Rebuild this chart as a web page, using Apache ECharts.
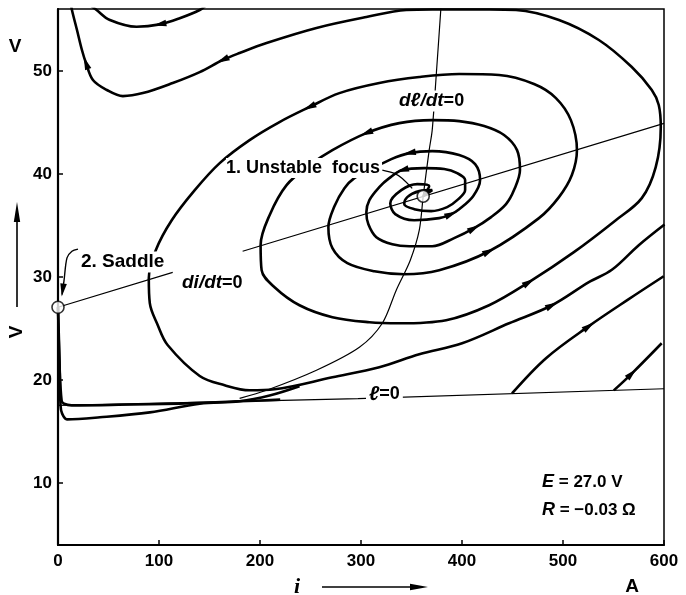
<!DOCTYPE html>
<html>
<head>
<meta charset="utf-8">
<script src="https://cdn.jsdelivr.net/npm/echarts@6/dist/echarts.min.js"></script>
<style>html,body{margin:0;padding:0;background:#fff}#c{width:686px;height:595px}</style>
</head>
<body>
<div id="c"></div>
<script>
// ---- tick labels ----
const xTicks = [0, 100, 200, 300, 400, 500, 600];
const yTicks = [10, 20, 30, 40, 50];

// ---- nullclines and boundary (i [A], V [V]) ----
const diNull = [[0, 27.07], [113.6, 30.45], null, [182.8, 32.5], [600, 44.9]];
const dlNull = [[379.4, 56.5], [374.5, 49.59], [370.5, 44.25], [367.5, 42.31], [361.6, 37.84],
  [357.7, 34.54], [348.8, 31.63], [334.9, 28.72], [321.1, 25.51], [298.4, 23.18],
  [255.9, 20.95], [206.5, 19.01], [179.8, 18.23]];
const lZero = [[0, 17.55], [180, 17.94], [297, 18.2], [600, 19.16]];

// ---- trajectories ----
const spiral1 = [[361.6, 37.84], [370.5, 38.43], [357.7, 38.33], [345.8, 37.75], [342.8, 37.07],
  [352.7, 36.58], [369.5, 36.39], [385.3, 36.78], [395.2, 37.46], [403.1, 38.43],
  [403.1, 39.40], [395.2, 40.08], [382.4, 40.47], [362.6, 40.56], [340.9, 40.37],
  [328.0, 39.59], [318.1, 38.72], [308.3, 37.46], [305.3, 36.29], [307.3, 35.12],
  [315.2, 33.86], [331.0, 33.18], [347.8, 32.99], [370.5, 32.99], [392.2, 33.77],
  [412.0, 34.74], [428.8, 35.81], [443.6, 37.07], [451.5, 38.43], [457.4, 40.37],
  [454.5, 42.31], [441.6, 43.77], [421.9, 44.64], [397.2, 45.12], [370.5, 45.22],
  [337.9, 44.93], [305.3, 43.96], [271.7, 42.31], [249.0, 40.85], [226.3, 38.91],
  [209.5, 36.00], [200.6, 33.09], [201.6, 30.66], [214.4, 29.01], [239.1, 27.26],
  [271.7, 26.10], [308.3, 25.61], [337.9, 25.51], [384.3, 25.81], [426.8, 27.26],
  [466.3, 29.50], [510.8, 32.41], [552.3, 35.51], [578.0, 37.65], [591.8, 40.66],
  [596.8, 44.54], [594.8, 46.68], [587.9, 48.14], [568.1, 50.37], [535.5, 52.99],
  [496.0, 54.93], [453.5, 55.90], [426.8, 55.95], [397.2, 55.95], [370.5, 55.95],
  [344.8, 55.90], [305.3, 55.22], [255.9, 54.16], [206.5, 52.70], [179.8, 51.73],
  [163.0, 51.05], [140.3, 49.88], [113.6, 48.82], [84.0, 47.84], [64.2, 47.55],
  [48.4, 48.14], [34.6, 49.11], [27.7, 50.76], [23.7, 52.02], [18.8, 53.96],
  [13.8, 55.90], [12.8, 56.5]];
const spiral2 = [[361.6, 37.84], [367.5, 38.82], [355.7, 39.01], [339.9, 38.43], [329.0, 37.16],
  [333.9, 36.10], [352.7, 35.51], [377.4, 35.71], [389.3, 36.10], [397.2, 36.58],
  [411.0, 37.84], [417.9, 39.40], [413.0, 40.95], [397.2, 41.83], [370.5, 42.21],
  [347.8, 42.02], [330.0, 41.44], [308.3, 40.37], [293.4, 39.59], [283.6, 38.62],
  [273.7, 36.87], [267.7, 34.83], [271.7, 32.80], [286.5, 31.34], [313.2, 30.56],
  [342.8, 30.27], [377.4, 30.66], [426.8, 32.50], [476.2, 35.71], [496.0, 37.75],
  [508.8, 39.89], [513.8, 42.31], [507.8, 45.22], [493.0, 47.36], [471.3, 48.72],
  [436.7, 49.59], [397.2, 49.69], [357.7, 49.40], [318.1, 48.82], [278.6, 47.84],
  [249.0, 46.49], [219.3, 45.03], [189.7, 43.28], [160.1, 41.05], [135.4, 38.43],
  [112.6, 35.51], [96.8, 32.60], [89.9, 29.88], [90.9, 27.46], [98.8, 25.32],
  [108.5, 23.40], [140.3, 20.40], [165.0, 19.50], [189.7, 19.01], [214.4, 19.11],
  [271.7, 20.27], [318.1, 21.24], [357.7, 22.50], [400.1, 23.57], [446.6, 25.51],
  [489.1, 27.26], [525.6, 29.50], [548.4, 30.70], [575.0, 33.09], [600.5, 35.10]];
const topArc = [[147.2, 56.4], [140.3, 55.9], [120.5, 55.1], [100.8, 54.51], [77.8, 54.28],
  [51.4, 54.93], [38.2, 55.9], [31.6, 56.4]];
const saddleLow = [[0, 27.07], [1.5, 21.9], [2.5, 17.55], [4.0, 16.77], [8.9, 16.19],
  [41.5, 16.39], [90.9, 16.87], [140.3, 17.7], [179.8, 17.94], [209.5, 18.5], [239.1, 19.4]];
const saddleUp = [[0, 27.07], [1.5, 21.5], [3.6, 18.0], [6.0, 17.7], [13.5, 17.55],
  [21.7, 17.55], [60, 17.6], [120, 17.72], [180, 17.94], [220, 18.1]];
const lowRight1 = [[449.5, 18.7], [483.2, 22.12], [525.6, 25.23], [565.1, 27.85], [599.7, 30.07]];
const lowRight2 = [[550.3, 19.0], [568.1, 20.63], [597.7, 23.57]];

// ---- singular points and annotation leaders ----
const focusPt = [361.6, 37.84];
const saddlePt = [0, 27.07];
const focusLeader = [[321.1, 40.37], [333.0, 40.05], [340.9, 39.56], [350.7, 38.59]];
const saddleLeader = [[19.8, 32.7], [13.8, 32.5], [8.9, 31.85], [5.9, 29.6], [4.0, 28.3]];

// arrow positions: curve + vertex index
const arrowSpec = [
  [topArc, 3], [spiral1, 14], [spiral1, 25], [spiral1, 36], [spiral1, 50], [spiral1, 70], [spiral1, 77],
  [spiral2, 8], [spiral2, 15], [spiral2, 27], [spiral2, 40], [spiral2, 60],
  [lowRight1, 2], [lowRight2, 1], [saddleLeader, 4]
];
const arrowData = arrowSpec.map(([c, k]) => {
  const a = c[Math.max(k - 1, 0)], b = c[Math.min(k + 1, c.length - 1)], p = c[k];
  return [p[0], p[1], a[0], a[1], b[0], b[1], k === c.length - 1 ? 1 : 0];
});

const FONT = '"Liberation Sans", "DejaVu Sans", sans-serif';
const chart = echarts.init(document.getElementById('c'), null, {renderer: 'canvas'});

function thick(data, w) {
  return {type: 'line', data: data, showSymbol: false, symbol: 'none', smooth: 0.35,
    lineStyle: {color: '#000', width: w || 2.6}, z: 3, silent: true};
}
function thin(data, smooth) {
  return {type: 'line', data: data, showSymbol: false, symbol: 'none', smooth: smooth ? 0.3 : false,
    lineStyle: {color: '#000', width: 1.2}, z: 2, silent: true};
}
const mid = {verticalAlign: 'middle', textVerticalAlign: 'middle'};
const ctr = {align: 'center', textAlign: 'center', verticalAlign: 'middle', textVerticalAlign: 'middle'};

const option = {
  animation: false,
  backgroundColor: '#fff',
  grid: {left: 58, right: 22, top: 9, bottom: 50, show: true, borderColor: '#000', borderWidth: 1.5},
  xAxis: {
    type: 'value', min: 0, max: 600, interval: 100,
    axisLine: {show: true, onZero: false, lineStyle: {color: '#000', width: 2}},
    axisTick: {show: true, inside: true, length: 5, lineStyle: {color: '#000', width: 1.5}},
    axisLabel: {color: '#000', fontSize: 17, fontWeight: 'bold', fontFamily: FONT, margin: 8, customValues: xTicks},
    splitLine: {show: false}
  },
  yAxis: {
    type: 'value', min: 4, max: 56,
    axisLine: {show: true, onZero: false, lineStyle: {color: '#000', width: 2.2}},
    axisTick: {show: true, inside: true, length: 5, lineStyle: {color: '#000', width: 1.5}, customValues: yTicks},
    axisLabel: {color: '#000', fontSize: 17, fontWeight: 'bold', fontFamily: FONT, margin: 6, customValues: yTicks},
    splitLine: {show: false}
  },
  series: [
    thin(diNull, false),
    thin(dlNull, true),
    thin(lZero, false),
    thick(spiral1), thick(spiral2), thick(topArc), thick(saddleLow), thick(saddleUp),
    thick(lowRight1), thick(lowRight2),
    thin(focusLeader, true),
    Object.assign(thin(saddleLeader, true), {lineStyle: {color: '#000', width: 1.4}}),
    {
      type: 'custom', data: arrowData, z: 6, silent: true, clip: false,
      encode: {x: 0, y: 1},
      renderItem: function (params, api) {
        const p = api.coord([api.value(0), api.value(1)]);
        const a = api.coord([api.value(2), api.value(3)]);
        const b = api.coord([api.value(4), api.value(5)]);
        const end = api.value(6) === 1;
        let dx = b[0] - a[0], dy = b[1] - a[1];
        const L = Math.hypot(dx, dy) || 1; dx /= L; dy /= L;
        const len = 13, w = 3.3;
        const t = end ? [p[0] + dx * 2, p[1] + dy * 2] : [p[0] + dx * len * 0.5, p[1] + dy * len * 0.5];
        const c = [t[0] - dx * len, t[1] - dy * len];
        return {type: 'polygon', shape: {points: [t, [c[0] - dy * w, c[1] + dx * w], [c[0] + dy * w, c[1] - dx * w]]},
          style: {fill: '#000'}};
      }
    },
    {
      type: 'scatter', data: [focusPt, saddlePt], symbol: 'circle', symbolSize: 12, clip: false, z: 8, silent: true,
      itemStyle: {color: '#fff', borderColor: '#000', borderWidth: 1.6}
    }
  ],
  graphic: [
    {type: 'text', x: 226, y: 168, z: 100, style: Object.assign({text: '1. Unstable  focus', font: 'bold 18px ' + FONT, fill: '#000',
      backgroundColor: '#fff', padding: [1, 2, 1, 0]}, mid)},
    {type: 'text', x: 79, y: 262, z: 100, style: Object.assign({text: '2. Saddle', font: 'bold 19px ' + FONT, fill: '#000',
      backgroundColor: '#fff', padding: [1, 2]}, mid)},
    {type: 'text', x: 180, y: 283, z: 100, style: Object.assign({text: '{b|di/dt}{n|=0}', fill: '#000',
      backgroundColor: '#fff', padding: [1, 2],
      rich: {b: {font: 'italic bold 19px ' + FONT, fill: '#000'}, n: {font: 'bold 18px ' + FONT, fill: '#000'}}}, mid)},
    {type: 'text', x: 397, y: 101, z: 100, style: Object.assign({text: '{b|dℓ/dt}{n|=0}', fill: '#000',
      backgroundColor: '#fff', padding: [1, 2],
      rich: {b: {font: 'italic bold 19px ' + FONT, fill: '#000'}, n: {font: 'bold 18px ' + FONT, fill: '#000'}}}, mid)},
    {type: 'text', x: 366, y: 394, z: 100, style: Object.assign({text: '{b|ℓ}{n|=0}', fill: '#000',
      backgroundColor: '#fff', padding: [1, 3],
      rich: {b: {font: 'italic bold 20px ' + FONT, fill: '#000'}, n: {font: 'bold 18px ' + FONT, fill: '#000'}}}, mid)},
    {type: 'text', x: 542, y: 482, z: 100, style: Object.assign({text: '{i|E} = 27.0 V', font: 'bold 17px ' + FONT, fill: '#000',
      rich: {i: {font: 'italic bold 18px ' + FONT, fill: '#000'}}}, mid)},
    {type: 'text', x: 542, y: 510, z: 100, style: Object.assign({text: '{i|R} = \u22120.03 \u03A9', font: 'bold 17px ' + FONT, fill: '#000',
      rich: {i: {font: 'italic bold 18px ' + FONT, fill: '#000'}}}, mid)},
    // axis names
    {type: 'text', x: 15, y: 47, z: 100, style: Object.assign({text: 'V', font: 'bold 19px ' + FONT, fill: '#000'}, ctr)},
    {type: 'text', x: 17, y: 332, rotation: Math.PI / 2, z: 100, style: Object.assign({text: 'V', font: 'bold 19px ' + FONT, fill: '#000'}, ctr)},
    {type: 'line', z: 100, shape: {x1: 17, y1: 307, x2: 17, y2: 212}, style: {stroke: '#000', lineWidth: 1.6}},
    {type: 'polygon', z: 100, shape: {points: [[17, 202], [13.8, 222], [20.2, 222]]}, style: {fill: '#000'}},
    {type: 'text', x: 297, y: 587, z: 100, style: Object.assign({text: 'i', font: 'italic bold 22px "Liberation Serif", serif', fill: '#000'}, ctr)},
    {type: 'line', z: 100, shape: {x1: 322, y1: 587, x2: 416, y2: 587}, style: {stroke: '#000', lineWidth: 1.6}},
    {type: 'polygon', z: 100, shape: {points: [[428, 587], [410, 583.8], [410, 590.2]]}, style: {fill: '#000'}},
    {type: 'text', x: 632, y: 587, z: 100, style: Object.assign({text: 'A', font: 'bold 19px ' + FONT, fill: '#000'}, ctr)}
  ]
};
chart.setOption(option);
</script>
</body>
</html>
